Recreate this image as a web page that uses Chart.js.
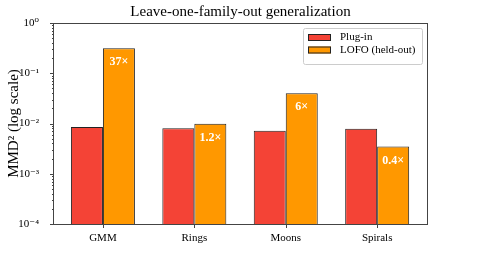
<!DOCTYPE html>
<html>
<head>
<meta charset="utf-8">
<script src="https://cdn.jsdelivr.net/npm/chart.js@4.4.1/dist/chart.umd.min.js"></script>
<style>
  body { margin: 0; background: #fff; }
  canvas { display: block; }
</style>
</head>
<body>
<canvas id="lofoChart" width="478" height="258"></canvas>
<script>
const categories = ['GMM', 'Rings', 'Moons', 'Spirals'];
const plugIn = [0.0085, 0.0080, 0.0072, 0.0079];
const lofo = [0.315, 0.0099, 0.040, 0.0035];
const ratioLabels = ['37×', '1.2×', '6×', '0.4×'];
const yTicks = [1e-4, 1e-3, 1e-2, 1e-1, 1];
const yTickLabels = ['10⁻⁴', '10⁻³', '10⁻²', '10⁻¹', '10⁰'];

const serif = '"Liberation Serif", "DejaVu Serif", serif';

// frame, ticks, title, legend and ratio labels, matplotlib style
const decor = {
  id: 'decor',
  afterDatasetsDraw(chart) {
    const { ctx, chartArea: a, scales: { x, y } } = chart;
    ctx.save();

    // ratio labels inside orange bars
    ctx.fillStyle = '#fff';
    ctx.font = 'bold 12px ' + serif;
    ctx.textAlign = 'center';
    ctx.textBaseline = 'middle';
    chart.getDatasetMeta(1).data.forEach((bar, i) => {
      ctx.fillText(ratioLabels[i], bar.x, bar.y + 14);
    });

    // spines
    ctx.strokeStyle = '#444';
    ctx.lineWidth = 1;
    ctx.strokeRect(Math.round(a.left) - 0.5, Math.round(a.top) + 0.5,
      Math.round(a.right - a.left) + 1, Math.round(a.bottom - a.top));

    // y ticks, major + minor
    ctx.beginPath();
    yTicks.forEach((v, i) => {
      const py = Math.round(y.getPixelForValue(v)) + 0.5;
      ctx.moveTo(a.left, py); ctx.lineTo(a.left - 4, py);
      if (i < yTicks.length - 1) {
        for (let m = 2; m < 10; m++) {
          const my = Math.round(y.getPixelForValue(v * m)) + 0.5;
          ctx.moveTo(a.left, my); ctx.lineTo(a.left - 2, my);
        }
      }
    });
    // x ticks
    categories.forEach((c, i) => {
      const px = Math.round(x.getPixelForValue(i)) + 0.5;
      ctx.moveTo(px, a.bottom); ctx.lineTo(px, a.bottom + 4);
    });
    ctx.stroke();

    // title
    ctx.fillStyle = '#000';
    ctx.font = '15px ' + serif;
    ctx.fillText('Leave-one-family-out generalization', (a.left + a.right) / 2, 12);

    // legend
    const lx = 303, ly = 28, lw = 119, lh = 36;
    ctx.fillStyle = 'rgba(255,255,255,0.8)';
    ctx.strokeStyle = '#ccc';
    ctx.beginPath();
    ctx.roundRect(lx + 0.5, ly + 0.5, lw, lh, 2);
    ctx.fill();
    ctx.stroke();
    ctx.font = '11px ' + serif;
    ctx.textAlign = 'left';
    chart.data.datasets.forEach((ds, i) => {
      const ry = ly + 6 + i * 12.5;
      ctx.fillStyle = ds.backgroundColor;
      ctx.fillRect(lx + 5, ry, 23, 7);
      ctx.strokeStyle = '#222';
      ctx.strokeRect(lx + 5.5, ry + 0.5, 22, 6);
      ctx.fillStyle = '#000';
      ctx.fillText(ds.label, lx + 37, ry + 3.5);
    });
    ctx.restore();
  }
};

new Chart(document.getElementById('lofoChart'), {
  type: 'bar',
  data: {
    datasets: [
      {
        label: 'Plug-in',
        data: plugIn.map((v, i) => ({ x: i, y: v })),
        backgroundColor: '#f44336',
        borderColor: '#222',
        borderWidth: 1
      },
      {
        label: 'LOFO (held-out)',
        data: lofo.map((v, i) => ({ x: i, y: v })),
        backgroundColor: '#ff9800',
        borderColor: '#222',
        borderWidth: 1
      }
    ]
  },
  options: {
    responsive: false,
    animation: false,
    layout: { padding: { top: 23, right: 51, left: 0, bottom: 0 } },
    datasets: { bar: { categoryPercentage: 0.7, barPercentage: 1.0 } },
    scales: {
      x: {
        type: 'linear',
        min: -0.535,
        max: 3.545,
        offset: false,
        afterBuildTicks: (s) => { s.ticks = categories.map((c, i) => ({ value: i })); },
        afterFit: (s) => { s.height = 34; },
        grid: { display: false },
        border: { display: false },
        ticks: {
          padding: 0,
          color: '#000',
          font: { family: serif, size: 11 },
          callback: (v) => categories[v]
        }
      },
      y: {
        type: 'logarithmic',
        min: 1e-4,
        max: 1,
        afterBuildTicks: (s) => { s.ticks = yTicks.map(v => ({ value: v, major: true })); },
        afterFit: (s) => { s.width = 54; },
        grid: { display: false },
        border: { display: false },
        ticks: {
          padding: 7,
          color: '#000',
          font: { family: serif, size: 11 },
          callback: (v) => yTickLabels[yTicks.indexOf(v)]
        },
        title: {
          display: true,
          text: 'MMD² (log scale)',
          color: '#000',
          font: { family: serif, size: 15 },
          padding: { top: 5, bottom: 0 }
        }
      }
    },
    plugins: {
      legend: { display: false },
      tooltip: { enabled: false }
    }
  },
  plugins: [decor]
});
</script>
</body>
</html>
